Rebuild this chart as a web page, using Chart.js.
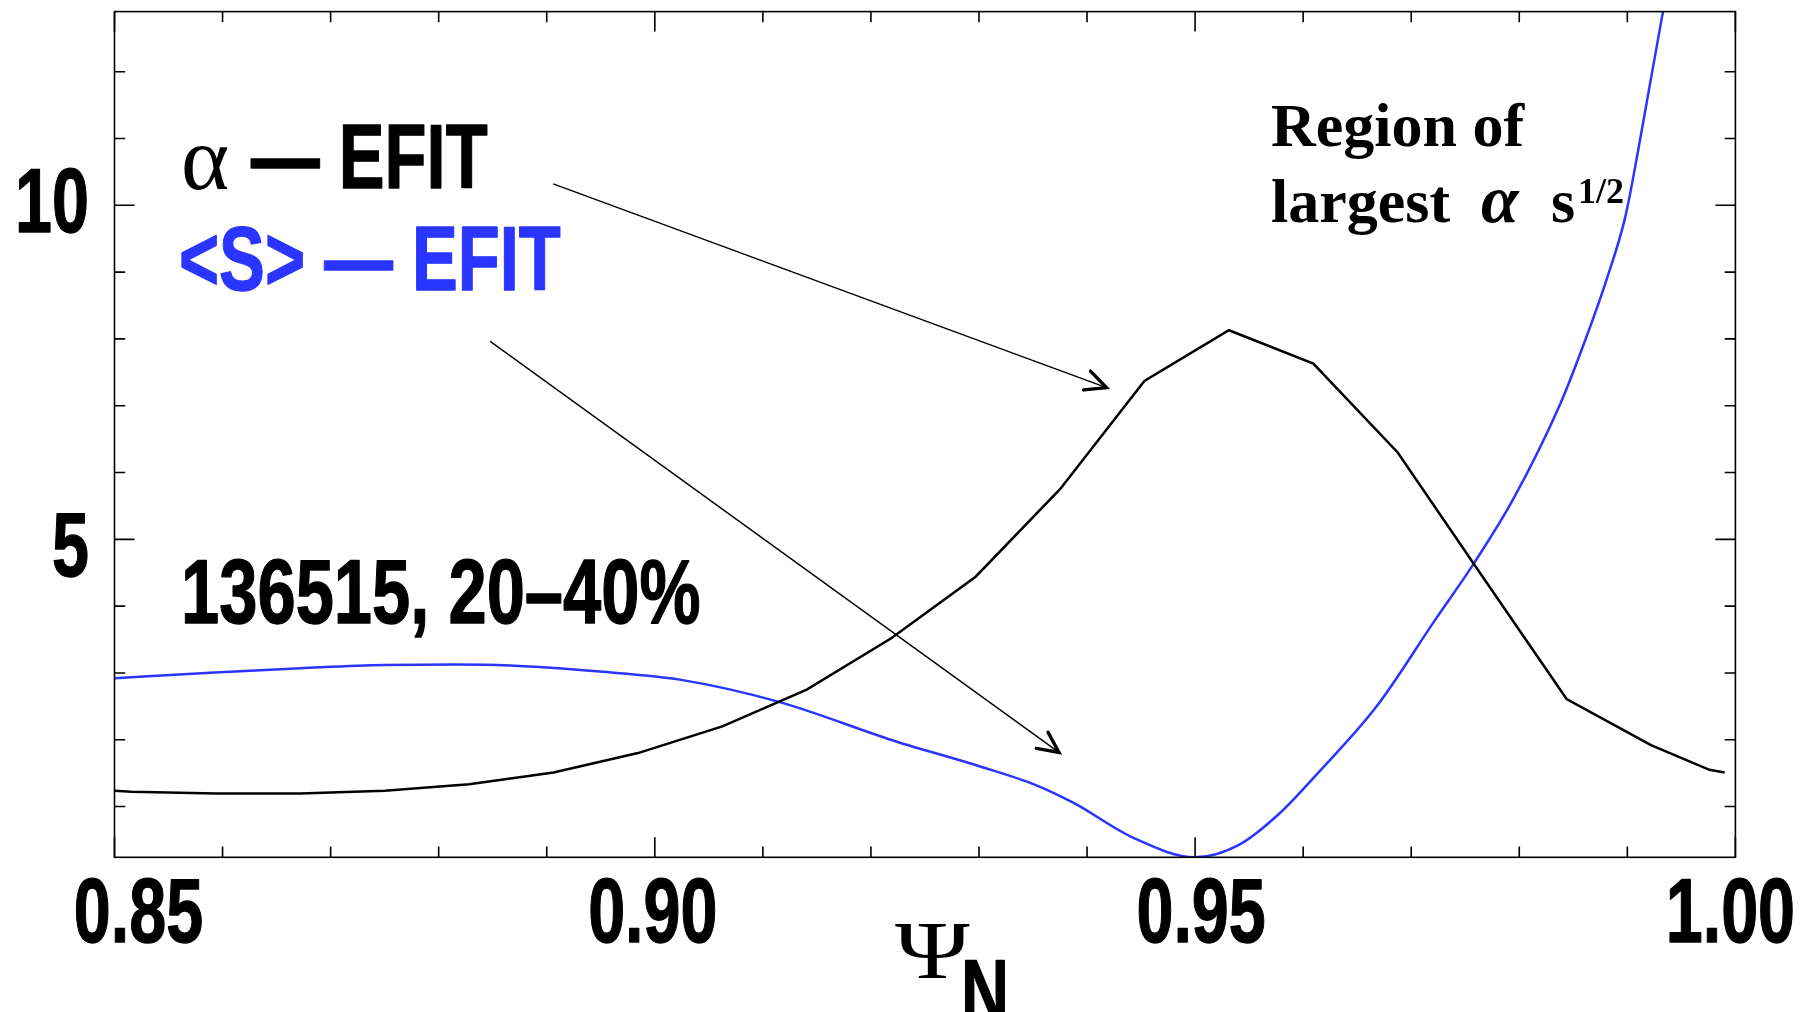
<!DOCTYPE html>
<html lang="en">
<head>
<meta charset="UTF-8" />
<title>alpha e shear vs psi_N</title>
<script src="https://cdn.jsdelivr.net/npm/chart.js"></script>
<style>
  html, body { margin: 0; padding: 0; background: #fff; }
  #wrap { width: 1814px; height: 1012px; }
</style>
</head>
<body>
<div id="wrap"><canvas id="grafico" width="1814" height="1012"></canvas></div>
<script>
// alpha (EFIT) - linha poligonal
const alphaPsi = [0.85, 0.85156, 0.85938, 0.86719, 0.875, 0.88281, 0.89063, 0.89844, 0.90625, 0.91406,
                  0.92188, 0.92969, 0.9375, 0.94531, 0.95313, 0.96094, 0.96875, 0.97656, 0.98438, 0.99219,
                  0.9976, 0.999];
const alphaVal = [1.235, 1.22, 1.195, 1.195, 1.235, 1.335, 1.51, 1.80, 2.20, 2.75,
                  3.52, 4.44, 5.75, 7.37, 8.13, 7.63, 6.30, 4.45, 2.61, 1.92,
                  1.55, 1.51];

// <S> (EFIT) - curva suave
const shearPsi = [0.85, 0.8593, 0.8672, 0.8749, 0.8815, 0.8866, 0.8949, 0.9023, 0.9114, 0.9224,
                  0.9301, 0.9352, 0.9388, 0.9443, 0.95, 0.9541, 0.9577, 0.9613, 0.9668, 0.9722,
                  0.9758, 0.9794, 0.9838, 0.9861, 0.9881, 0.9898, 0.991, 0.9921, 0.9933];
const shearVal = [2.92, 3.005, 3.07, 3.12, 3.125, 3.11, 3.02, 2.90, 2.57, 1.97,
                  1.60, 1.325, 1.05, 0.53, 0.24, 0.43, 0.88, 1.49, 2.50, 3.79,
                  4.64, 5.59, 7.03, 7.98, 8.90, 9.82, 10.82, 11.82, 12.9];

const xTicks = [0.85, 0.86, 0.87, 0.88, 0.89, 0.90, 0.91, 0.92, 0.93, 0.94, 0.95, 0.96, 0.97, 0.98, 0.99, 1.00];
const xLabels = ['0.85', '0.90', '0.95', '1.00'];
const yTicks = [1, 2, 3, 4, 5, 6, 7, 8, 9, 10, 11, 12];
const yLabels = ['5', '10'];

// setas: [psi inicio, valor inicio, psi ponta, valor ponta]
const arrows = [
  [0.8906, 10.32, 0.9418, 7.27],
  [0.8848, 7.96, 0.9374, 1.81]
];

const blue = '#2a35ff';
const sans = '"Liberation Sans", Arial, sans-serif';
const serif = '"Liberation Serif", "DejaVu Serif", serif';

// Helvetica Narrow = Helvetica comprimida na horizontal
function textoEstreito(ctx, txt, x, y, aperto, align) {
  ctx.save();
  ctx.translate(x, y);
  ctx.scale(aperto, 1);
  ctx.textAlign = align || 'left';
  ctx.lineWidth = 1.3;
  ctx.lineJoin = 'round';
  ctx.strokeStyle = ctx.fillStyle;
  ctx.fillText(txt, 0, 0);
  ctx.strokeText(txt, 0, 0);
  ctx.restore();
}

const moldura = {
  id: 'moldura',
  afterDatasetsDraw(chart) {
    const { ctx, chartArea: a, scales: { x, y } } = chart;
    ctx.save();
    ctx.strokeStyle = '#000';
    ctx.lineWidth = 1.6;
    ctx.strokeRect(a.left, a.top, a.right - a.left, a.bottom - a.top);
    ctx.beginPath();
    x.ticks.forEach(t => {
      const px = x.getPixelForValue(t.value);
      const len = xLabels.includes(t.value.toFixed(2)) ? 20 : 10.7;
      ctx.moveTo(px, a.bottom); ctx.lineTo(px, a.bottom - len);
      ctx.moveTo(px, a.top); ctx.lineTo(px, a.top + len);
    });
    y.ticks.forEach(t => {
      const py = y.getPixelForValue(t.value);
      const len = yLabels.includes(String(t.value)) ? 20 : 10.7;
      ctx.moveTo(a.left, py); ctx.lineTo(a.left + len, py);
      ctx.moveTo(a.right, py); ctx.lineTo(a.right - len, py);
    });
    ctx.stroke();

    // rotulos dos eixos
    ctx.fillStyle = '#000';
    ctx.font = 'bold 91px ' + sans;
    ctx.textBaseline = 'alphabetic';
    const ajusteX = { '0.85': 24, '0.90': -2, '0.95': 6, '1.00': -5 };
    x.ticks.forEach(t => {
      const s = t.value.toFixed(2);
      if (!xLabels.includes(s)) return;
      textoEstreito(ctx, s, x.getPixelForValue(t.value) + ajusteX[s], a.bottom + 84.5, 0.73, 'center');
    });
    const ajusteY = { '5': 7, '10': -3 };
    y.ticks.forEach(t => {
      const s = String(t.value);
      if (!yLabels.includes(s)) return;
      textoEstreito(ctx, s, a.left - 25.5, y.getPixelForValue(t.value) + 30 + ajusteY[s], 0.73, 'right');
    });

    // setas
    arrows.forEach(([x0, y0, x1, y1]) => {
      const sx = x.getPixelForValue(x0), sy = y.getPixelForValue(y0);
      const tx = x.getPixelForValue(x1), ty = y.getPixelForValue(y1);
      ctx.lineWidth = 1.4;
      ctx.beginPath(); ctx.moveTo(sx, sy); ctx.lineTo(tx, ty); ctx.stroke();
      const ang = Math.atan2(ty - sy, tx - sx);
      ctx.lineWidth = 3.4;
      ctx.lineCap = 'round';
      ctx.beginPath();
      ctx.moveTo(tx + 23 * Math.cos(ang + Math.PI - 0.45), ty + 23 * Math.sin(ang + Math.PI - 0.45));
      ctx.lineTo(tx, ty);
      ctx.lineTo(tx + 23 * Math.cos(ang + Math.PI + 0.45), ty + 23 * Math.sin(ang + Math.PI + 0.45));
      ctx.stroke();
    });
    ctx.restore();
  }
};

const textos = {
  id: 'textos',
  afterDraw(chart) {
    const ctx = chart.ctx;
    ctx.save();
    ctx.textBaseline = 'alphabetic';
    ctx.fillStyle = '#000';
    ctx.font = '92px ' + serif;
    ctx.fillText('α', 181, 189);
    ctx.font = 'bold 91px ' + sans;
    textoEstreito(ctx, '— EFIT', 251, 188, 0.755);
    ctx.fillStyle = blue;
    textoEstreito(ctx, '<S> — EFIT', 179, 290, 0.755);
    ctx.fillStyle = '#000';
    textoEstreito(ctx, '136515, 20–40%', 181, 623, 0.755);

    ctx.font = 'bold 62px ' + serif;
    ctx.fillText('Region of', 1271, 146);
    ctx.fillText('largest', 1271, 222);
    ctx.font = 'italic bold 68px ' + serif;
    ctx.fillText('α', 1481, 222);
    ctx.font = 'bold 62px ' + serif;
    ctx.fillText('s', 1551, 222);
    ctx.font = 'bold 36px ' + serif;
    ctx.fillText('1/2', 1578, 203);

    ctx.save();
    ctx.translate(895, 978);
    ctx.scale(1.22, 1);
    ctx.font = '83px ' + serif;
    ctx.fillText('Ψ', 0, 0);
    ctx.restore();
    ctx.font = 'bold 91px ' + sans;
    textoEstreito(ctx, 'N', 961, 1023, 0.73);
    ctx.restore();
  }
};

const ctx = document.getElementById('grafico').getContext('2d');
new Chart(ctx, {
  type: 'line',
  data: {
    datasets: [
      {
        label: 'α — EFIT',
        data: alphaPsi.map((p, i) => ({ x: p, y: alphaVal[i] })),
        borderColor: '#000',
        borderWidth: 2.5,
        pointRadius: 0,
        tension: 0
      },
      {
        label: '<S> — EFIT',
        data: shearPsi.map((p, i) => ({ x: p, y: shearVal[i] })),
        borderColor: blue,
        borderWidth: 2.5,
        pointRadius: 0,
        cubicInterpolationMode: 'monotone'
      }
    ]
  },
  options: {
    responsive: false,
    animation: false,
    layout: { padding: { top: 11.6, right: 78.6, left: 0, bottom: 0 } },
    plugins: { legend: { display: false }, tooltip: { enabled: false } },
    scales: {
      x: {
        type: 'linear',
        min: 0.85,
        max: 1.0,
        afterBuildTicks: s => { s.ticks = xTicks.map(v => ({ value: v })); },
        afterFit: s => { s.height = 154.7; s.paddingLeft = 0; s.paddingRight = 0; },
        grid: { display: false, drawTicks: false },
        border: { display: false },
        ticks: { display: false }
      },
      y: {
        min: 0.24,
        max: 12.9,
        afterBuildTicks: s => { s.ticks = yTicks.map(v => ({ value: v })); },
        afterFit: s => { s.width = 114.5; s.paddingTop = 0; s.paddingBottom = 0; },
        grid: { display: false, drawTicks: false },
        border: { display: false },
        ticks: { display: false }
      }
    }
  },
  plugins: [moldura, textos]
});
</script>
</body>
</html>
